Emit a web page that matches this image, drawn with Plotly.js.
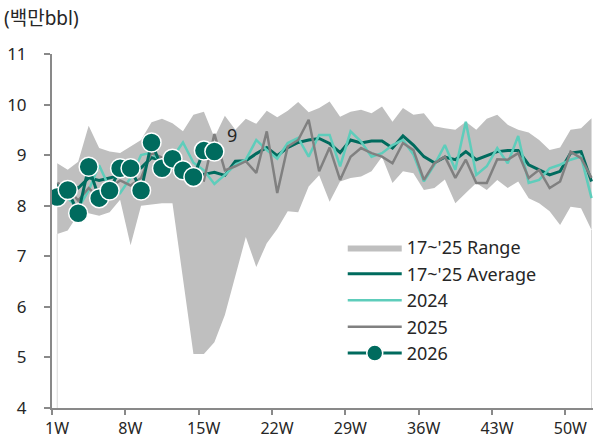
<!DOCTYPE html>
<html>
<head>
<meta charset="utf-8">
<script src="https://cdn.plot.ly/plotly-3.0.1.min.js"></script>
<style>html,body{margin:0;padding:0;background:#fff;}#chart{width:603px;height:439px;}</style>
</head>
<body>
<div id="chart"></div>
<script>
const weeks = [1,2,3,4,5,6,7,8,9,10,11,12,13,14,15,16,17,18,19,20,21,22,23,24,25,26,27,28,29,30,31,32,33,34,35,36,37,38,39,40,41,42,43,44,45,46,47,48,49,50,51,52];
const weeks2026 = [1,2,3,4,5,6,7,8,9,10,11,12,13,14,15,16];
const tickPositions = [0.5,7.5,14.5,21.5,28.5,35.5,42.5,49.5];
const tickLabels = ["1W","8W","15W","22W","29W","36W","43W","50W"];

const rangeHigh = [8.84,8.71,8.87,9.58,9.14,9.07,9.04,9.17,9.30,9.65,9.72,9.63,9.47,9.80,9.86,9.35,9.78,9.50,9.72,9.62,9.88,9.75,9.88,10.05,9.85,9.93,10.06,9.76,9.86,9.90,9.83,9.96,9.66,9.93,9.80,9.83,9.57,9.53,9.50,9.66,9.50,9.72,9.80,9.60,9.50,9.45,9.30,9.10,9.15,9.50,9.53,9.73];
const rangeLow = [7.44,7.51,7.83,7.85,7.80,7.87,8.12,7.22,8.00,8.02,8.05,8.05,6.60,5.07,5.07,5.30,5.84,6.60,7.38,6.79,7.26,7.54,7.89,7.87,8.38,8.60,8.08,8.48,8.55,8.58,8.68,8.97,8.45,8.68,8.64,8.31,8.35,8.52,8.05,8.25,8.45,8.31,8.51,8.35,8.48,8.15,8.05,7.89,7.62,7.98,7.95,7.52];
const average = [8.40,8.45,8.35,8.55,8.50,8.55,8.60,8.70,8.75,8.95,8.90,8.85,8.75,8.62,8.62,8.66,8.60,8.88,8.89,9.03,9.15,8.99,9.15,9.25,9.30,9.33,9.23,9.05,9.30,9.24,9.28,9.28,9.14,9.38,9.20,8.97,8.85,8.96,8.91,9.07,8.91,8.99,9.07,9.09,9.09,8.81,8.71,8.61,8.68,9.04,9.07,8.48];
const y2024 = [8.20,8.15,7.95,8.30,8.80,8.35,8.25,8.55,9.00,9.05,8.85,8.95,9.25,8.85,8.70,8.43,8.61,8.81,8.91,9.30,9.10,8.93,9.24,9.34,8.97,9.40,9.40,8.78,9.47,9.27,8.97,9.04,9.20,9.30,9.01,8.48,8.81,9.20,8.71,9.66,8.61,8.78,9.14,8.84,9.38,8.45,8.51,8.74,8.81,8.91,8.97,8.15];
const y2025 = [8.45,8.35,8.10,8.35,8.15,8.35,8.50,8.40,8.55,9.05,8.95,8.85,8.65,8.55,8.50,9.42,8.70,8.78,8.88,8.65,9.47,8.25,9.17,9.30,9.70,8.68,9.15,8.51,8.97,9.14,9.04,8.97,8.84,9.24,9.10,8.51,8.84,8.97,8.55,8.91,8.45,8.45,8.92,8.91,9.04,8.55,8.71,8.35,8.48,9.07,8.94,8.55];
const y2026 = [8.17,8.31,7.85,8.77,8.15,8.30,8.74,8.74,8.30,9.25,8.74,8.93,8.70,8.57,9.09,9.07];

const teal = '#006B5E', lightTeal = '#5ECDBB', grey = '#808080', band = '#BFBFBF';
const fontFam = '"Noto Sans", "Noto Sans CJK KR", sans-serif';

const traces = [
  {x: weeks, y: rangeLow, type:'scatter', mode:'lines', line:{width:0, color:band}, showlegend:false, hoverinfo:'skip'},
  {x: weeks, y: rangeHigh, type:'scatter', mode:'lines', fill:'tonexty', fillcolor:band, line:{width:0, color:band}, name:"17~'25 Range", legendgroup:'a'},
  {x: weeks, y: average, type:'scatter', mode:'lines', line:{width:3, color:teal}, name:"17~'25 Average", legendgroup:'b'},
  {x: weeks, y: y2024, type:'scatter', mode:'lines', line:{width:2.5, color:lightTeal}, name:'2024', legendgroup:'c'},
  {x: weeks, y: y2025, type:'scatter', mode:'lines', line:{width:2.5, color:grey}, name:'2025', legendgroup:'d'},
  {x: weeks2026, y: y2026, type:'scatter', mode:'lines+markers', line:{width:3, color:teal},
   marker:{size:19, color:teal, line:{width:1.5, color:'#ffffff'}}, name:'2026', legendgroup:'e'}
];

const layout = {
  width:603, height:439,
  margin:{l:52, r:10, t:54, b:31},
  paper_bgcolor:'#fff', plot_bgcolor:'#fff',
  font:{family:fontFam, size:16, color:'#262626'},
  title:{text:'(백만bbl)', xref:'container', yref:'container', x:4/603, y:1-18/439, xanchor:'left', yanchor:'middle', font:{size:19, family:fontFam, color:'#262626'}},
  showlegend:true,
  legend:{x:0.5374, y:0.505, xanchor:'left', yanchor:'top', font:{size:18}, bgcolor:'rgba(0,0,0,0)', itemwidth:54, tracegroupgap:2, traceorder:'normal'},
  xaxis:{range:[0.5, 52.14], showgrid:false, zeroline:false, showline:true, linecolor:'#898989', linewidth:2,
         tickmode:'array', tickvals:tickPositions, ticktext:tickLabels, ticks:'outside', ticklen:5, tickwidth:2, tickcolor:'#898989',
         ticklabelshift:5, tickfont:{size:16}},
  yaxis:{range:[4, 11], showgrid:false, zeroline:false, showline:true, linecolor:'#898989', linewidth:2,
         tickmode:'linear', tick0:4, dtick:1, ticks:'outside', ticklen:6, tickwidth:2, tickcolor:'#898989',
         ticklabelstandoff:14, tickfont:{size:17}},
  shapes:[
    {type:'line', xref:'x', yref:'y', x0:weeks[0], x1:weeks[0], y0:4, y1:rangeLow[0], line:{color:'#D9D9D9', width:1}, layer:'below'},
    {type:'line', xref:'x', yref:'y', x0:weeks[51], x1:weeks[51], y0:4, y1:rangeLow[51], line:{color:'#D9D9D9', width:1}, layer:'below'}
  ],
  annotations:[
    {text:'9', xref:'x', yref:'y', x:17.7, y:9.40, showarrow:false, font:{size:18, color:'#262626'}}
  ]
};

Plotly.newPlot('chart', traces, layout, {displayModeBar:false, staticPlot:true});
</script>
</body>
</html>
